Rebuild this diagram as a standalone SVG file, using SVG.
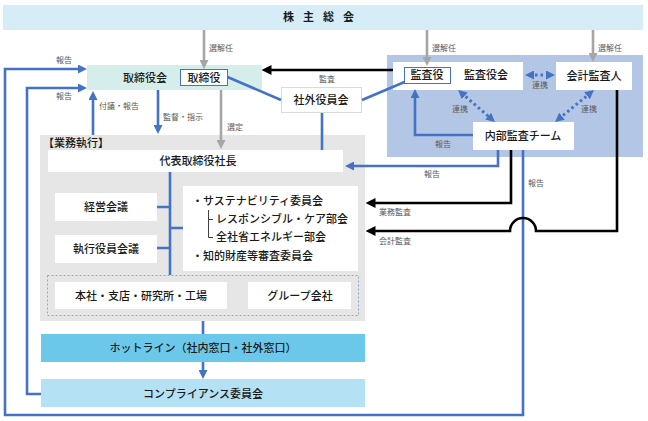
<svg xmlns="http://www.w3.org/2000/svg" width="648" height="421" viewBox="0 0 648 421">
<style>
text{font-family:"Noto Sans CJK JP","Noto Sans",sans-serif;}
.n{font-size:11px;fill:#1a1a1a;text-anchor:middle;font-weight:500;}
.nl{font-size:11px;fill:#1a1a1a;font-weight:500;}
.l{font-size:8px;fill:#595959;}
.lc{font-size:8px;fill:#595959;text-anchor:middle;}
.wb{fill:#ffffff;}
.bl{fill:none;stroke:#4472c4;stroke-width:2.6;}
.bk{fill:none;stroke:#000000;stroke-width:2.6;}
.gy{fill:none;stroke:#a6a6a6;stroke-width:2.6;}
.dt{fill:none;stroke:#4472c4;stroke-width:3;stroke-dasharray:2.5 3;}
</style>
<defs>
<marker id="ab" viewBox="0 0 10 10" refX="5" refY="5" markerWidth="9" markerHeight="9" markerUnits="userSpaceOnUse" orient="auto-start-reverse"><path d="M0,0 L10,5 L0,10 z" fill="#4472c4"/></marker>
<marker id="ak" viewBox="0 0 10 10" refX="5" refY="5" markerWidth="10" markerHeight="10" markerUnits="userSpaceOnUse" orient="auto-start-reverse"><path d="M0,0 L10,5 L0,10 z" fill="#000000"/></marker>
<marker id="ag" viewBox="0 0 10 10" refX="5" refY="5" markerWidth="9" markerHeight="9" markerUnits="userSpaceOnUse" orient="auto-start-reverse"><path d="M0,0 L10,5 L0,10 z" fill="#a6a6a6"/></marker>
</defs>
<rect width="648" height="421" fill="#ffffff"/>

<!-- backgrounds -->
<rect x="387" y="55" width="256" height="102" fill="#b4c6e5"/>
<rect x="40" y="135" width="325" height="186" fill="#e6e6e6"/>

<g id="shareholders">
<rect x="3" y="5" width="640" height="25" fill="#d6edf8"/>
<text x="323" y="21" class="n" style="font-weight:bold;letter-spacing:9px">株主総会</text>
</g>

<g id="board">
<rect x="87" y="65" width="175" height="25" fill="#d6eeeb"/>
<text x="145" y="82" class="n">取締役会</text>
<rect x="180.5" y="69.5" width="47" height="16" fill="#ffffff" stroke="#4472c4" stroke-width="1"/>
<text x="204" y="82" class="n">取締役</text>
</g>

<g id="outside-officers">
<rect x="281.5" y="87.5" width="80" height="25" fill="#ffffff" stroke="#dadada" stroke-width="1"/>
<text x="321" y="104" class="n">社外役員会</text>
</g>

<g id="audit-board">
<rect x="393" y="62" width="130" height="28" class="wb"/>
<rect x="404.5" y="67.5" width="46" height="16" fill="#ffffff" stroke="#4472c4" stroke-width="1"/>
<text x="427" y="79" class="n">監査役</text>
<text x="486" y="79" class="n">監査役会</text>
</g>

<g id="accounting-auditor">
<rect x="556" y="62" width="76" height="28" class="wb"/>
<text x="594" y="80" class="n">会計監査人</text>
</g>

<g id="internal-audit">
<rect x="473" y="122" width="101" height="28" class="wb"/>
<text x="523" y="140" class="n">内部監査チーム</text>
</g>

<g id="execution">
<text x="43" y="147" class="nl">【業務執行】</text>
</g>

<g id="president">
<rect x="48" y="150" width="295" height="22" class="wb"/>
<text x="198" y="165" class="n">代表取締役社長</text>
</g>

<g id="management-meeting">
<rect x="55" y="193" width="102" height="28" class="wb"/>
<text x="106" y="211" class="n">経営会議</text>
</g>

<g id="executive-meeting">
<rect x="55" y="235" width="102" height="28" class="wb"/>
<text x="106" y="253" class="n">執行役員会議</text>
</g>

<g id="committees">
<rect x="183" y="186" width="175" height="85" class="wb"/>
<text x="192" y="205" class="nl">・サステナビリティ委員会</text>
<text x="216" y="223" class="nl">レスポンシブル・ケア部会</text>
<text x="216" y="241" class="nl">全社省エネルギー部会</text>
<text x="192" y="260" class="nl">・知的財産等審査委員会</text>
<path d="M208.5,210 V237.5 H213 M208.5,219.5 H213" fill="none" stroke="#404040" stroke-width="1"/>
</g>

<g id="sites">
<rect x="47.5" y="275.5" width="311" height="40" fill="none" stroke="#8fa7cf" stroke-width="1" stroke-dasharray="2 2"/>
<rect x="55" y="282" width="172" height="27" class="wb"/>
<text x="141" y="300" class="n">本社・支店・研究所・工場</text>
<rect x="248" y="282" width="103" height="27" class="wb"/>
<text x="300" y="300" class="n">グループ会社</text>
</g>

<g id="hotline">
<rect x="41" y="334" width="324" height="28" fill="#6cc8eb"/>
<text x="203" y="352" class="n">ホットライン（社内窓口・社外窓口）</text>
</g>

<g id="compliance">
<rect x="41" y="379" width="324" height="28" fill="#b4e1f4"/>
<text x="203" y="398" class="n">コンプライアンス委員会</text>
</g>

<g id="connectors">
<path d="M204,30 V64.5" class="gy" marker-end="url(#ag)"/>
<path d="M427,30 V61.5" class="gy" marker-end="url(#ag)"/>
<path d="M593,30 V57.5" class="gy" marker-end="url(#ag)"/>
<path d="M221,90 V144.5" class="gy" marker-end="url(#ag)"/>
<path d="M523,150 V415 H5 V69 H82.5" class="bl" marker-end="url(#ab)"/>
<path d="M41,394 H27 V88 H82.5" class="bl" marker-end="url(#ab)"/>
<path d="M93,135 V95.5" class="bl" marker-end="url(#ab)"/>
<path d="M158,90 V129.5" class="bl" marker-end="url(#ab)"/>
<path d="M227.5,77 L281,100" class="bl"/>
<path d="M362,100 L404.5,82" class="bl"/>
<path d="M322,113 V150" class="bl"/>
<path d="M393,70 H266.5" class="bk" marker-end="url(#ak)"/>
<path d="M473,135 H415 V93.5" class="bl" marker-end="url(#ab)"/>
<path d="M529.5,75 H550.5" class="dt" marker-start="url(#ab)" marker-end="url(#ab)"/>
<path d="M461.4,92.9 L491.6,119.1" class="dt" marker-start="url(#ab)" marker-end="url(#ab)"/>
<path d="M590.5,92.9 L558.5,119.1" class="dt" marker-start="url(#ab)" marker-end="url(#ab)"/>
<path d="M498,150 V166 H349.5" class="bl" marker-end="url(#ab)"/>
<path d="M511,150 V203 H370.5" class="bk" marker-end="url(#ak)"/>
<path d="M617,90 V231 H536 A13,13 0 0 0 510,231 H370.5" class="bk" marker-end="url(#ak)"/>
<path d="M170,172 V275" class="bl"/>
<path d="M157,207 H170 M157,248 H170 M170,228 H183" class="bl"/>
<path d="M203,321 V334" class="bl"/>
<path d="M203,362 V374.5" class="bl" marker-end="url(#ab)"/>
</g>

<g id="labels">
<text x="64" y="63" class="lc">報告</text>
<text x="64" y="99" class="lc">報告</text>
<text x="209" y="51" class="l">選解任</text>
<text x="432" y="51" class="l">選解任</text>
<text x="598" y="51" class="l">選解任</text>
<text x="99" y="109" class="l">付議・報告</text>
<text x="163" y="120" class="l">監督・指示</text>
<text x="227" y="130" class="l">選定</text>
<text x="327" y="82" class="lc">監査</text>
<text x="540" y="88" class="lc">連携</text>
<text x="460" y="112" class="lc">連携</text>
<text x="589" y="112" class="lc">連携</text>
<text x="443" y="147" class="lc">報告</text>
<text x="432" y="177" class="lc">報告</text>
<text x="528" y="186" class="l">報告</text>
<text x="379" y="215" class="l">業務監査</text>
<text x="379" y="244" class="l">会計監査</text>
</g>
</svg>
